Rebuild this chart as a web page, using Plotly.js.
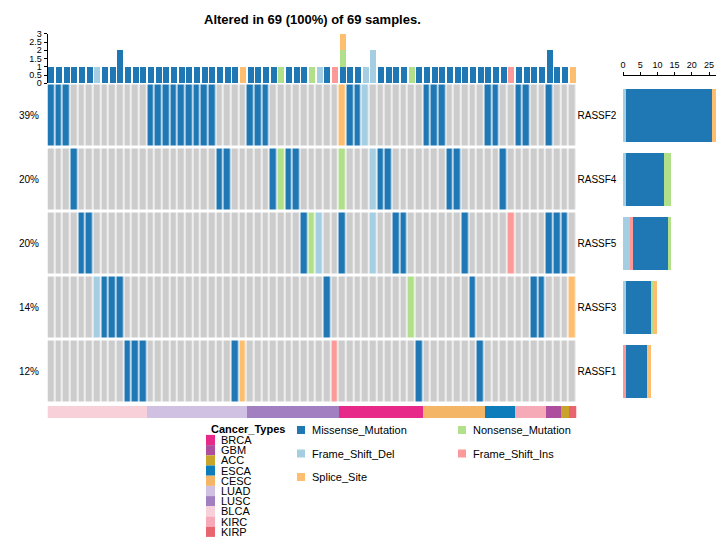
<!DOCTYPE html>
<html><head><meta charset="utf-8">
<script src="https://cdn.plot.ly/plotly-3.0.1.min.js"></script>
<style>html,body{margin:0;padding:0;background:#fff}#chart{width:722px;height:541px}</style>
</head><body><div id="chart"></div>
<script>
// ---- data ----
const genes = ['RASSF2','RASSF4','RASSF5','RASSF3','RASSF1'];
// one code per sample (69): . none, M missense, N nonsense, D frame-shift del, I frame-shift ins, S splice, W two missense hits
const RASSF2 = 'MMM....... ...MMMMMMM MM....MMM. ........SM MD.......M MM.....MM. .MM..M...';
const RASSF4 = '...M...... .......... ..MM.....M NMM.....N. ..DMM..... ..MM.....M .........';
const RASSF5 = '....MM.... .......... .......... ...MND..M. ..D..MM... ....M..... I....MMM.';
const RASSF3 = '......DMMW .......... .......... ......M... .......N.. .....M.... ...MM...S';
const RASSF1 = '.......... MMM....... ....MS.... .......I.. ........M. ......M... .........';
const geneCodes = [RASSF2, RASSF4, RASSF5, RASSF3, RASSF1];

const altTypes  = ['Frame_Shift_Del','Frame_Shift_Ins','Missense_Mutation','Nonsense_Mutation','Splice_Site'];
const altCodes  = ['D','I','M','N','S'];
const altColors = ['#A6CEE3','#FB9A99','#1F78B4','#B2DF8A','#FDBF6F'];
const bgColor = '#CCCCCC';
const altLegendOrder = ['Missense_Mutation','Nonsense_Mutation','Frame_Shift_Del','Frame_Shift_Ins','Splice_Site'];

const cancerGroups = ['BLCA','LUAD','LUSC','BRCA','CESC','ESCA','KIRC','GBM','ACC','KIRP'];
const cancerGroupSizes = [13,13,12,11,8,4,4,2,1,1];
const cancerLegend = ['BRCA','GBM','ACC','ESCA','CESC','LUAD','LUSC','BLCA','KIRC','KIRP'];
const cancerColors = ['#E7298A','#AE4E9E','#C8A52A','#0C7CBA','#F5B567','#D0C0E1','#A17FC1','#F8D0DA','#F6AAB8','#E8656F'];

// ---- derived ----
const W = 722, H = 541;
const fx = p => p / W, fy = p => 1 - p / H;
const cells = geneCodes.map(s => s.replace(/ /g,'').split(''));
const nS = cells[0].length;
const sampleIdx = Array.from({length:nS}, (_, i) => i);
const codeIndex = c => (c === 'W' ? altCodes.indexOf('M') + 1 : altCodes.indexOf(c) + 1); // 0 = none
const hitCount = (c, code) => (c === code ? 1 : (c === 'W' && code === 'M' ? 2 : 0));

const traces = [];
// main grid
const zGrid = cells.map(row => row.map(codeIndex));
const nC = altCodes.length;
const cs = [];
[bgColor].concat(altColors).forEach((col, k) => {
  cs.push([Math.max(0,(k-0.5)/nC), col]);
  cs.push([Math.min(1,(k+0.5)/nC), col]);
});
traces.push({type:'heatmap', x:sampleIdx, y:genes, z:zGrid, zmin:0, zmax:nC,
  colorscale:cs, showscale:false, xgap:1.4, ygap:3, hoverinfo:'skip', xaxis:'x', yaxis:'y'});

// top barplot
altCodes.forEach((code, k) => {
  const y = sampleIdx.map(i => cells.reduce((s,row) => s + hitCount(row[i], code), 0));
  traces.push({type:'bar', x:sampleIdx, y:y, width:0.78, marker:{color:altColors[k], line:{width:0}},
    name:altTypes[k], showlegend:false, xaxis:'x', yaxis:'y2', hoverinfo:'skip'});
});

// right barplot
altCodes.forEach((code, k) => {
  const x = cells.map(row => row.filter(c => c === code || (code === 'M' && c === 'W')).length);
  traces.push({type:'bar', orientation:'h', y:genes, x:x, width:0.82, marker:{color:altColors[k], line:{width:0}},
    showlegend:false, xaxis:'x2', yaxis:'y', hoverinfo:'skip'});
});

// cancer type annotation bar
const sampleCancer = [];
cancerGroups.forEach((g, i) => { for (let j = 0; j < cancerGroupSizes[i]; j++) sampleCancer.push(g); });
const nT = cancerLegend.length;
const csC = [];
cancerColors.forEach((col, k) => {
  csC.push([k/nT, col]); csC.push([(k+1)/nT, col]);
});
traces.push({type:'heatmap', x:sampleIdx, y:[0], z:[sampleCancer.map(c => cancerLegend.indexOf(c) + 0.5)],
  zmin:0, zmax:nT, colorscale:csC, showscale:false, hoverinfo:'skip', xaxis:'x', yaxis:'y3'});

// ---- annotations / legend ----
const font = 'Liberation Sans, Arial, sans-serif';
const annotations = [];
const shapes = [];
const altered = sampleIdx.filter(i => cells.some(row => row[i] !== '.')).length;
annotations.push({xref:'paper', yref:'paper', x:fx(312), y:fy(19), yanchor:'middle', showarrow:false,
  text:'<b>Altered in ' + altered + ' (' + Math.round(100*altered/nS) + '%) of ' + nS + ' samples.</b>',
  font:{size:13, family:font, color:'#000'}});
cells.forEach((row, gi) => {
  const n = row.filter(c => c !== '.').length;
  annotations.push({xref:'paper', yref:'y', x:fx(41), y:gi, xanchor:'right', yanchor:'middle', showarrow:false,
    text:Math.round(100*n/nS) + '%', font:{size:10, family:font, color:'#000'}});
});
// Cancer_Types legend
annotations.push({xref:'paper', yref:'paper', x:fx(209), y:fy(428.5), xanchor:'left', yanchor:'middle', showarrow:false,
  text:'<b>Cancer_Types</b>', font:{size:11, family:font, color:'#000'}});
cancerLegend.forEach((c, k) => {
  const cy = 440 + k*10.2;
  shapes.push({type:'rect', xref:'paper', yref:'paper', x0:fx(206), x1:fx(215), y0:fy(cy-5.1), y1:fy(cy+5.1),
    fillcolor:cancerColors[k], line:{width:0}});
  annotations.push({xref:'paper', yref:'paper', x:fx(219), y:fy(cy), xanchor:'left', yanchor:'middle', showarrow:false,
    text:c, font:{size:11, family:font, color:'#000'}});
});
// alteration legend
altLegendOrder.forEach((t, k) => {
  const col = k % 2, r = Math.floor(k / 2);
  const sx = col === 0 ? 297 : 458, cy = 430 + r*23.5;
  shapes.push({type:'rect', xref:'paper', yref:'paper', x0:fx(sx), x1:fx(sx+8), y0:fy(cy-4), y1:fy(cy+4),
    fillcolor:altColors[altTypes.indexOf(t)], line:{width:0}});
  annotations.push({xref:'paper', yref:'paper', x:fx(sx+13), y:fy(cy), xanchor:'left', yanchor:'middle', showarrow:false,
    text:t, font:{size:11, family:font, color:'#000'}});
});

const layout = {
  width:W, height:H, margin:{l:0,r:0,t:0,b:0}, paper_bgcolor:'#fff', plot_bgcolor:'rgba(0,0,0,0)',
  barmode:'stack', bargap:0, showlegend:false, font:{family:font, color:'#000'},
  xaxis:{domain:[fx(47.5), fx(576.5)], range:[-0.5, nS-0.5], showticklabels:false, showgrid:false,
    zeroline:false, ticks:'', anchor:'y', fixedrange:true},
  yaxis:{domain:[fy(403.5), fy(83.5)], type:'category', autorange:'reversed', side:'right', ticks:'',
    showgrid:false, zeroline:false, tickfont:{size:10, family:font}, anchor:'x'},
  yaxis2:{domain:[fy(83.3), fy(33.8)], range:[0,3], anchor:'x', tickvals:[0,0.5,1,1.5,2,2.5,3],
    ticktext:['0','0.5','1','1.5','2','2.5','3'], ticks:'outside', ticklen:3, showline:true,
    linecolor:'#000', linewidth:1, tickcolor:'#000', tickfont:{size:9, family:font}, showgrid:false, zeroline:false},
  yaxis3:{domain:[fy(418.3), fy(406)], anchor:'x', visible:false, range:[-0.5,0.5]},
  xaxis2:{domain:[fx(623), fx(716)], range:[0, 27.03], anchor:'free', position:fy(75), side:'top',
    tickvals:[0,5,10,15,20,25], ticks:'outside', ticklen:3, showline:true, linecolor:'#000', linewidth:1,
    tickcolor:'#000', tickfont:{size:9, family:font}, showgrid:false, zeroline:false},
  annotations:annotations, shapes:shapes
};
Plotly.newPlot('chart', traces, layout, {displayModeBar:false, staticPlot:true});
</script></body></html>
